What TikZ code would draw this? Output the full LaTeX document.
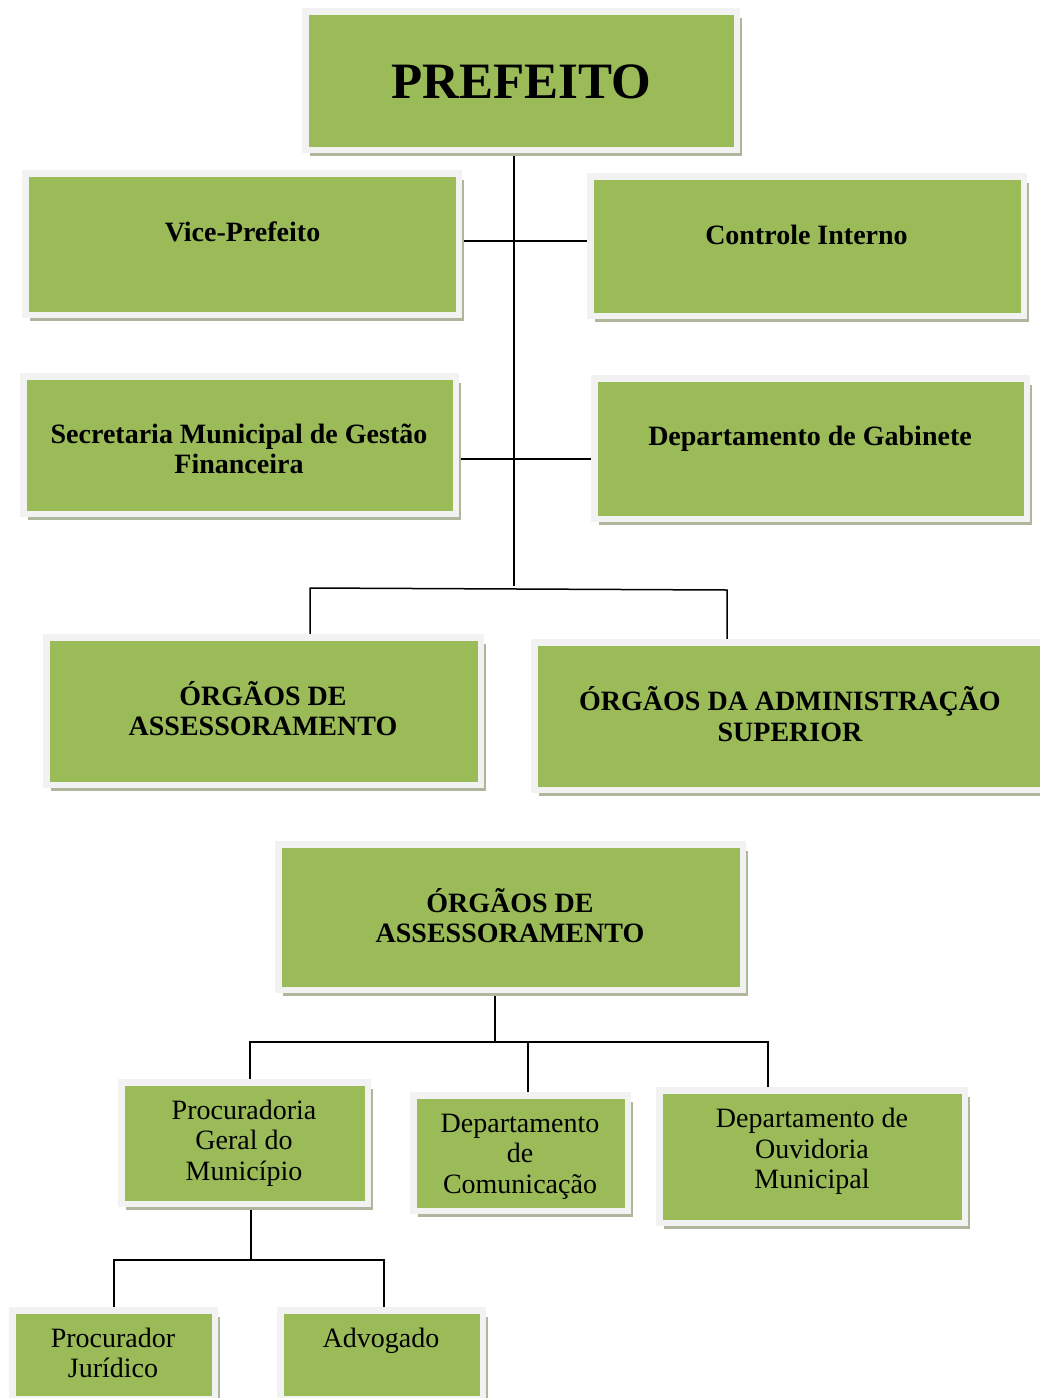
\documentclass[tikz,border=0pt]{standalone}
\usepackage{fontspec}
\setmainfont{Liberation Serif}
\usetikzlibrary{shadows}
\pgfdeclarelayer{bg}
\pgfsetlayers{bg,main}
\definecolor{boxgreen}{HTML}{9BBB59}
\definecolor{boxgray}{HTML}{F2F2F2}
\definecolor{shadowc}{HTML}{AEB79C}
\tikzset{
  orgbox/.style={fill=boxgreen, draw=boxgray, line width=6.5pt, inner sep=0pt, outer sep=0pt,
    general shadow={shadow xshift=5pt, shadow yshift=-6.5pt, fill=shadowc}},
  txt/.style={font=\fontsize{28}{30.5}\selectfont, align=center, inner sep=0pt, anchor=base},
  btxt/.style={txt, font=\fontsize{28}{30.5}\selectfont\bfseries},
  conn/.style={draw=black, line width=1.5pt}
}
\begin{document}
\begin{tikzpicture}[x=1pt,y=-1pt]
\useasboundingbox (0,0) rectangle (1040,1398);
% boxes
\node[orgbox, minimum width=431.5pt, minimum height=138.5pt] (P)  at (521,80.5) {};
\node[orgbox, minimum width=433.5pt, minimum height=141.5pt] (V)  at (242,244) {};
\node[orgbox, minimum width=433.5pt, minimum height=139.5pt] (C)  at (807,246) {};
\node[orgbox, minimum width=432.5pt, minimum height=137.5pt] (S)  at (239.5,445) {};
\node[orgbox, minimum width=432.5pt, minimum height=140.5pt] (G)  at (810.5,448.5) {};
\node[orgbox, minimum width=434.5pt, minimum height=147.5pt] (O1) at (263.5,711) {};
\node[orgbox, minimum width=512.5pt, minimum height=147.5pt] (O2) at (790.5,716) {};
\node[orgbox, minimum width=464.5pt, minimum height=145.5pt] (O3) at (510.5,917) {};
\node[orgbox, minimum width=246.5pt, minimum height=121.5pt] (PG) at (244.5,1143) {};
\node[orgbox, minimum width=214.5pt, minimum height=115.5pt] (DC) at (520.5,1153) {};
\node[orgbox, minimum width=305.5pt, minimum height=132.5pt] (DO) at (812,1156.5) {};
\node[orgbox, minimum width=202.5pt, minimum height=88.5pt]  (PJ) at (113.5,1354.5) {};
\node[orgbox, minimum width=202.5pt, minimum height=88.5pt]  (AD) at (381.5,1354.5) {};
% texts (anchor=base is the baseline of the last line)
\node[btxt, font=\fontsize{51}{55}\selectfont\bfseries] (tP) at (521,98) {PREFEITO};
\node[btxt] (tV) at (242.5,241) {Vice-Prefeito};
\node[btxt] (tC) at (806.5,244) {Controle Interno};
\node[btxt] (tS) at (239,473.5) {Secretaria Municipal de Gestão\\Financeira};
\node[btxt] (tG) at (810,445) {Departamento de Gabinete};
\node[btxt] (tO1) at (263,735.5) {ÓRGÃOS DE\\ASSESSORAMENTO};
\node[btxt] (tO2) at (790,741) {ÓRGÃOS DA ADMINISTRAÇÃO\\SUPERIOR};
\node[btxt] (tO3) at (510,942.5) {ÓRGÃOS DE\\ASSESSORAMENTO};
\node[txt] (tPG) at (244,1180) {Procuradoria\\Geral do\\Município};
\node[txt] (tDC) at (520,1193) {Departamento\\de\\Comunicação};
\node[txt] (tDO) at (812,1188.5) {Departamento de\\Ouvidoria\\Municipal};
\node[txt] (tPJ) at (113,1377.5) {Procurador\\Jurídico};
\node[txt] (tAD) at (381,1347) {Advogado};
% connectors
\coordinate (t1) at (514,586);
\coordinate (h1) at (514,241);
\coordinate (h2) at (514,459);
\coordinate (bl) at (310,588);
\coordinate (br) at (727,590);
\coordinate (t2) at (495,1042);
\coordinate (a1) at (250,1042);
\coordinate (a2) at (528,1042);
\coordinate (a3) at (768,1042);
\coordinate (t3) at (251,1260);
\coordinate (b1) at (114,1260);
\coordinate (b2) at (384,1260);
\begin{pgfonlayer}{bg}
\draw[conn] (P.south -| t1) -- (t1);
\draw[conn] (V.east |- h1) -- (C.west |- h1);
\draw[conn] (S.east |- h2) -- (G.west |- h2);
\draw[conn] (O1.north -| bl) -- (bl) -- (br) -- (O2.north -| br);
\draw[conn] (O3.south -| t2) -- (t2);
\draw[conn] (PG.north -| a1) -- (a1) -- (a3) -- (DO.north -| a3);
\draw[conn] (a2) -- (DC.north -| a2);
\draw[conn] (PG.south -| t3) -- (t3);
\draw[conn] (PJ.north -| b1) -- (b1) -- (b2) -- (AD.north -| b2);
\end{pgfonlayer}
\end{tikzpicture}
\end{document}
